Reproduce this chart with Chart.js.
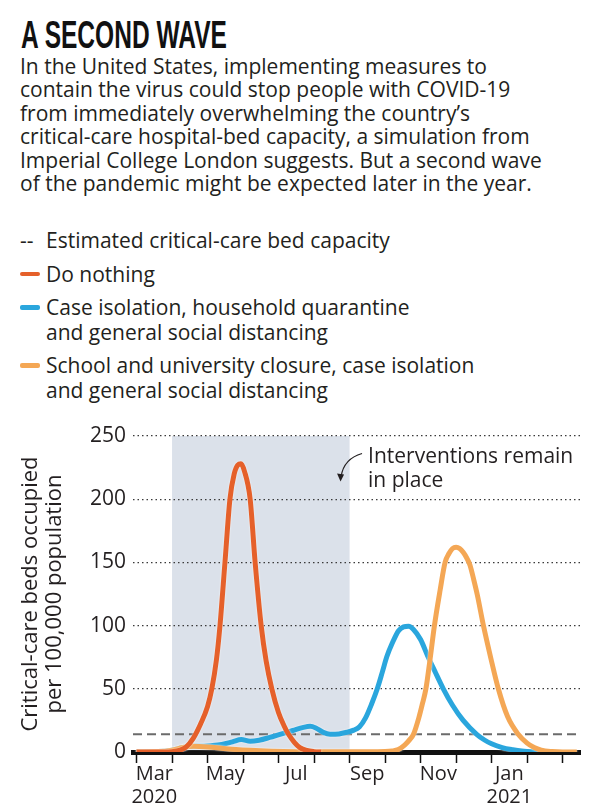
<!DOCTYPE html>
<html>
<head>
<meta charset="utf-8">
<script src="https://cdn.jsdelivr.net/npm/chart.js@4"></script>
<style>
  html, body { margin: 0; padding: 0; background: #fff; }
  body { width: 600px; height: 808px; position: relative; overflow: hidden; font-family: "Open Sans", "Noto Sans", sans-serif; color: #231f20; }
  #title { position: absolute; left: 21px; top: 16px; font-family: "Liberation Sans", Arial, sans-serif; font-weight: bold; font-size: 38px; line-height: 38px; color: #111; white-space: nowrap; transform-origin: 0 0; }
  #desc { position: absolute; left: 20px; top: 55px; width: 580px; font-size: 21px; line-height: 23.4px; white-space: nowrap; }
  #legend { position: absolute; left: 20px; top: 228px; font-size: 21px; line-height: 24.5px; }
  .item { position: relative; padding-left: 26px; margin-bottom: 9px; white-space: nowrap; }
  .swatch { position: absolute; left: 0; top: 10px; width: 20px; height: 4.5px; border-radius: 2px; }
  .dash { position: absolute; left: 0; top: 0; }
  #wrap { position: absolute; left: 0; top: 405px; width: 600px; height: 403px; }
</style>
</head>
<body>
<div id="title">A SECOND WAVE</div>
<div id="desc">In the United States, implementing measures to<br>contain the virus could stop people with COVID-19<br>from immediately overwhelming the country’s<br>critical-care hospital-bed capacity, a simulation from<br>Imperial College London suggests. But a second wave<br>of the pandemic might be expected later in the year.</div>
<div id="legend"></div>
<div id="wrap"><canvas id="chart" width="600" height="403"></canvas></div>
<script>
// x values are months since 1 March 2020
const tickMonths = [0, 1, 2, 3, 4, 5, 6, 7, 8, 9, 10, 11, 12];
const labelMonths = [0.5, 2.5, 4.5, 6.5, 8.5, 10.5];
const monthLabels = [["Mar", "2020"], "May", "Jul", "Sep", "Nov", ["Jan", "2021"]];
const xRange = [-0.1, 12.49];
const yTicks = [0, 50, 100, 150, 200, 250];

const capacityValue = 14;
const interventionPeriod = [1, 6];

const doNothingX = [0, 0.8, 1.0, 1.2, 1.4, 1.6, 1.8, 2.0, 2.12, 2.25, 2.35, 2.49, 2.63, 2.75, 2.85, 2.94, 3.04, 3.2, 3.34, 3.51, 3.65, 3.81, 4.0, 4.15, 4.28, 4.45, 4.6, 4.8, 5.0, 5.2];
const doNothingY = [0, 0, 0.3, 1.2, 4, 11, 22, 36, 50, 73, 100, 150, 200, 220, 227, 228, 222, 200, 150, 100, 72, 50, 31, 21, 14, 7.5, 3.5, 1.2, 0.3, 0];

const isolationX = [0, 0.6, 1.0, 1.3, 1.6, 1.9, 2.1, 2.4, 2.7, 2.95, 3.2, 3.45, 3.75, 4.04, 4.4, 4.7, 4.89, 5.05, 5.26, 5.45, 5.7, 5.92, 6.12, 6.28, 6.45, 6.62, 6.78, 6.92, 7.05, 7.2, 7.38, 7.52, 7.66, 7.8, 8.0, 8.2, 8.4, 8.64, 8.9, 9.2, 9.58, 9.8, 10.0, 10.3, 10.6, 10.85, 11.2, 11.6];
const isolationY = [0, 0.3, 1.5, 3.5, 4.5, 4.6, 5, 6, 8, 9.8, 8.5, 9.3, 11.5, 14, 17, 19.5, 20.3, 19, 15.5, 14, 14.3, 15.6, 17.3, 20, 27, 38, 50, 63, 75.5, 86, 96, 99, 99.5, 97, 89, 76, 64, 50, 37, 25, 14, 9.5, 6.5, 3.5, 1.8, 0.8, 0.2, 0];

const closureX = [0, 0.6, 1.0, 1.3, 1.6, 2.0, 2.4, 2.8, 3.2, 3.8, 4.5, 5.5, 6.5, 7.0, 7.2, 7.37, 7.55, 7.7, 7.8, 7.95, 8.05, 8.15, 8.27, 8.39, 8.55, 8.69, 8.8, 8.9, 9.0, 9.1, 9.2, 9.3, 9.39, 9.5, 9.6, 9.77, 9.98, 10.19, 10.45, 10.75, 11.0, 11.2, 11.4, 11.7, 12.0, 12.4];
const closureY = [0, 0.3, 1.5, 3.5, 4.5, 4, 3, 2, 1.3, 0.6, 0.2, 0.1, 0.1, 0.3, 0.8, 2, 5.5, 10, 14, 27, 38, 50, 74, 100, 128, 150, 157, 161, 162, 161, 158, 153.5, 148, 136, 124, 100, 74, 50, 28, 14, 7, 3.5, 1.5, 0.4, 0, 0];

const seriesNames = [
  "Do nothing",
  "Case isolation, household quarantine<br>and general social distancing",
  "School and university closure, case isolation<br>and general social distancing"
];
const seriesColors = ["#e5602a", "#2aa6dd", "#f4a755"];
const capacityName = "Estimated critical-care bed capacity";

const FONT = "'Open Sans', 'Noto Sans', sans-serif";

// squeeze the headline into a condensed look
const title = document.getElementById("title");
title.style.transform = `scaleX(${206 / title.offsetWidth})`;

// legend
const legend = document.getElementById("legend");
legend.innerHTML = `<div class="item"><span class="dash">--</span>${capacityName}</div>` +
  seriesNames.map((n, i) => `<div class="item"><span class="swatch" style="background:${seriesColors[i]}"></span>${n}</div>`).join("");

function pts(xs, ys) {
  return xs.map((x, i) => ({ x, y: ys[i] }));
}

const curve = {
  borderWidth: 5,
  pointRadius: 0,
  fill: false,
  cubicInterpolationMode: "monotone",
  isCurve: true,
};

const shadePlugin = {
  id: "shade",
  beforeDraw(chart) {
    const { ctx, scales } = chart;
    const x0 = scales.x.getPixelForValue(interventionPeriod[0]);
    const x1 = scales.x.getPixelForValue(interventionPeriod[1]);
    const yTop = scales.y.getPixelForValue(yTicks[yTicks.length - 1]);
    const yBot = scales.y.getPixelForValue(0);
    ctx.save();
    ctx.fillStyle = "#dbe1ea";
    ctx.fillRect(x0, yTop, x1 - x0, yBot - yTop);
    ctx.restore();
  },
};

const haloPlugin = {
  id: "halo",
  beforeDatasetDraw(chart, args) {
    const ds = chart.data.datasets[args.index];
    chart.ctx.save();
    if (ds.isCurve) {
      chart.ctx.shadowColor = "rgba(255,255,255,0.9)";
      chart.ctx.shadowBlur = 2;
    }
  },
  afterDatasetDraw(chart) {
    chart.ctx.restore();
  },
};

const notePlugin = {
  id: "note",
  afterDraw(chart) {
    const { ctx, scales } = chart;
    const tx = scales.x.getPixelForValue(6.52);
    const ty = scales.y.getPixelForValue(229);
    ctx.save();
    ctx.fillStyle = "#231f20";
    ctx.font = `21px ${FONT}`;
    ctx.textBaseline = "alphabetic";
    ctx.fillText("Interventions remain", tx, ty);
    ctx.fillText("in place", tx, ty + 24);
    // curved arrow
    ctx.strokeStyle = "#231f20";
    ctx.lineWidth = 1.2;
    ctx.beginPath();
    ctx.moveTo(tx - 6, ty - 9);
    ctx.quadraticCurveTo(tx - 24, ty - 4, tx - 27, ty + 14);
    ctx.stroke();
    ctx.beginPath();
    ctx.moveTo(tx - 27.5, ty + 19);
    ctx.lineTo(tx - 31, ty + 11);
    ctx.lineTo(tx - 24, ty + 12);
    ctx.closePath();
    ctx.fill();
    ctx.restore();
  },
};

new Chart(document.getElementById("chart"), {
  type: "line",
  data: {
    datasets: [
      {
        label: capacityName,
        data: pts(xRange, [capacityValue, capacityValue]),
        borderColor: "#6b6b6b",
        borderWidth: 2,
        borderDash: [9, 5],
        pointRadius: 0,
        order: 4,
      },
      { ...curve, label: seriesNames[1], data: pts(isolationX, isolationY), borderColor: seriesColors[1], order: 3 },
      { ...curve, label: seriesNames[2], data: pts(closureX, closureY), borderColor: seriesColors[2], order: 2 },
      { ...curve, label: seriesNames[0], data: pts(doNothingX, doNothingY), borderColor: seriesColors[0], order: 1 },
    ],
  },
  options: {
    responsive: false,
    animation: false,
    devicePixelRatio: 1,
    layout: { padding: { top: 31, right: 20, left: 0, bottom: 0 } },
    plugins: { legend: { display: false }, tooltip: { enabled: false } },
    scales: {
      x: {
        type: "linear",
        min: xRange[0],
        max: xRange[1],
        z: 1,
        afterBuildTicks(scale) {
          scale.ticks = [...tickMonths, ...labelMonths].sort((a, b) => a - b).map((v) => ({ value: v }));
        },
        afterFit(scale) {
          scale.height = 56;
        },
        ticks: {
          autoSkip: false,
          maxRotation: 0,
          padding: 0,
          color: "#231f20",
          font: { size: 20, family: FONT, lineHeight: 1.15 },
          callback(value) {
            const i = labelMonths.indexOf(value);
            return i >= 0 ? monthLabels[i] : "";
          },
        },
        grid: {
          drawOnChartArea: false,
          drawTicks: true,
          tickLength: 11,
          tickWidth: 1.5,
          tickColor: (c) => (Number.isInteger(c.tick.value) ? "#111" : "rgba(0,0,0,0)"),
        },
        border: { display: true, color: "#111", width: 5 },
      },
      y: {
        min: 0,
        max: 250,
        afterBuildTicks(scale) {
          scale.ticks = yTicks.map((v) => ({ value: v }));
        },
        afterFit(scale) {
          scale.width = 133;
        },
        ticks: {
          padding: 7,
          color: "#231f20",
          font: { size: 21, family: FONT },
        },
        grid: {
          drawTicks: false,
          lineWidth: 1.3,
          color: (c) => (c.tick.value === 0 ? "rgba(0,0,0,0)" : "#3a3a3a"),
        },
        border: { display: false, dash: [1.5, 3] },
        title: {
          display: true,
          text: ["Critical-care beds occupied", "per 100,000 population"],
          color: "#231f20",
          font: { size: 22, family: FONT, lineHeight: 1.09 },
          padding: { top: 19, bottom: 0 },
        },
      },
    },
  },
  plugins: [shadePlugin, haloPlugin, notePlugin],
});
</script>
</body>
</html>
